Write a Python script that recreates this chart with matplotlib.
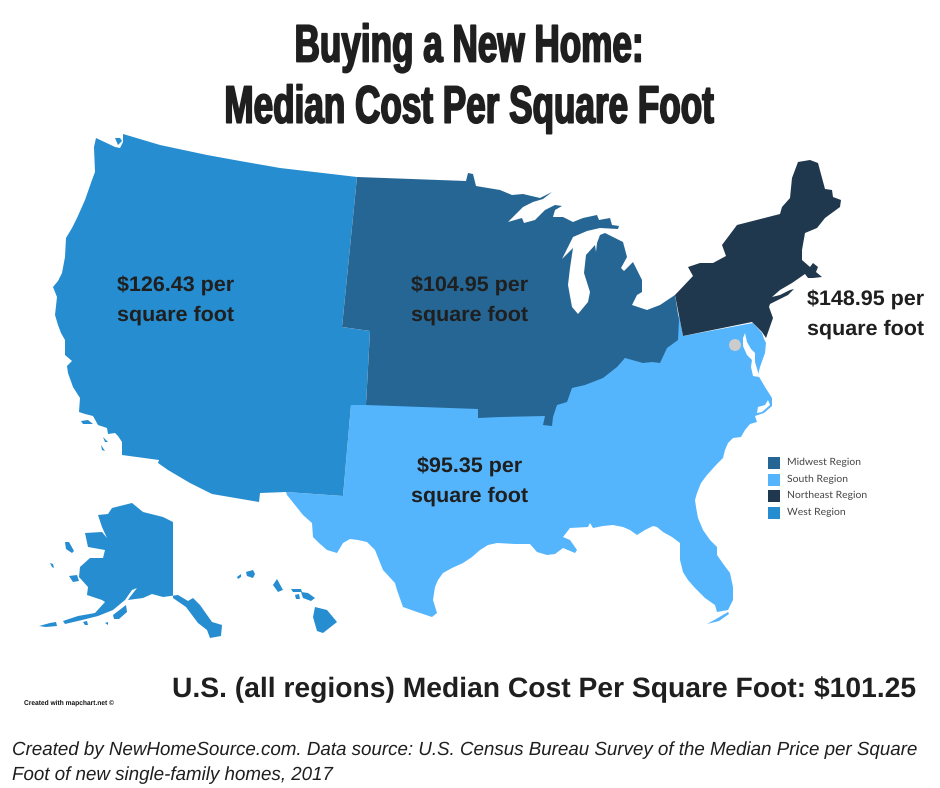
# -*- coding: utf-8 -*-
"""Median new home cost per square foot by US region, outlines read off the picture in pixels."""
import matplotlib; matplotlib.use("Agg"); import matplotlib.pyplot as plt
from matplotlib.patches import Rectangle, Circle
from matplotlib.patheffects import AbstractPathEffect
from matplotlib.transforms import Affine2D

plt.rcParams["text.hinting"]="no_hinting"; plt.rcParams["text.hinting_factor"]=8

WEST_C="#258dd0"; MIDWEST_C="#256694"; SOUTH_C="#55b5fc"; NE_C="#20384e"; INK="#1f1f1f"

LEGEND_NAMES=["Midwest Region","South Region","Northeast Region","West Region"]
LEGEND_COLORS=[MIDWEST_C,SOUTH_C,NE_C,WEST_C]
PRICE_LABELS=["$126.43 per\nsquare foot","$104.95 per\nsquare foot","$95.35 per\nsquare foot","$148.95 per\nsquare foot"]

west=[(123,134),(160,145),(207,155),(240,161),(280,168),(357,177),(342,327),(370,331),(366,405),(351,405),(343,496),
      (286,492),(260,493),(259,502),(212,494),(190,483),(168,470),(158,463),(159,460),(122,455),(122,442),(118,436),(115,433),(108,434),
      (107,428),(98,425),(93,416),(85,414),(79,412),(80,398),(73,387),(68,373),(67,366),(72,361),(65,355),(65,340),(61,333),
      (58,325),(55,315),(57,297),(53,287),(58,281),(62,273),(65,257),(66,238),(72,228),(77,218),(85,200),(92,180),(95,172),(94,147),(96,138),(115,147),
      (120,148),(123,142)]
midwest=[(357,177),(466,181),(468,173),(473,174),(476,186),(500,190),(512,195),(523,194),(540,198),(552,192),(543,199),(533,202),
         (523,207),(508,222),(522,218),(524,223),(535,220),(545,210),(555,205),(562,206),(555,210),(553,217),(563,217),(573,222),
         (583,218),(597,215),(599,220),(610,218),(612,225),(619,226),(618,229),(600,228),(587,231),(573,237),(562,259),(573,248),
         (570,268),(568,285),(572,307),(578,314),(588,302),(590,292),(584,273),(586,255),(595,245),(596,252),(597,243),(600,235),
         (605,233),(623,242),(627,257),(621,268),(624,271),(633,262),(642,280),(642,292),(637,295),(632,305),(647,310),(660,305),
         (675,295),(679,320),(678,340),(667,348),(660,363),(652,362),(643,363),(625,358),(617,367),(603,378),(585,385),(572,388),
         (567,402),(557,405),(553,417),(552,426),(543,425),(545,416),(500,417),(478,418),(478,409),(366,405),(370,331),(342,327)]
south=[(351,405),(366,400),(478,404),(500,410),(553,405),(572,380),(603,370),(640,350),(670,340),(679,315),(683,336),
       (753,323),(762,333),(764,339),(766,343),(765,353),(760,367),(758,375),(765,387),(772,398),(772,406),(764,413),(755,416),
       (757,422),(750,424),(745,430),(741,437),(733,438),(728,443),(725,450),(723,458),(716,465),(707,475),(701,483),(697,493),
       (695,500),(696,507),(698,518),(703,530),(710,540),(717,547),(717,555),(724,565),(730,573),(733,587),(733,600),(728,610),(717,612),
       (715,605),(705,598),(695,588),(688,580),(683,572),(680,560),(680,543),(672,537),(663,532),(657,527),(653,526),(645,530),(637,535),
       (630,530),(623,527),(613,525),(603,526),(593,528),(590,523),(588,527),(570,528),(563,537),(570,540),(577,550),
       (575,553),(563,548),(555,554),(547,555),(537,552),(530,544),(515,544),(497,543),(488,545),(480,550),(472,557),(463,563),
       (452,568),(443,573),(438,580),(435,587),(433,600),(437,613),(432,617),(417,612),(403,607),(397,590),(395,583),(383,570),
       (379,560),(375,550),(367,542),(358,540),(350,539),(343,543),(337,553),(327,550),(319,543),(313,537),(312,523),(303,515),(287,495),(286,492),(343,496)]
keys=[(707,624),(716,619),(728,612),(729,614),(719,621)]
northeast=[(675,295),(693,276),(688,267),(700,263),(713,263),(726,256),(722,245),(737,225),(780,214),(782,207),(790,198),
           (792,178),(798,162),(810,160),(818,163),(825,189),(832,190),(833,197),(841,200),(840,207),(825,218),(817,228),
           (805,233),(802,250),(802,260),(810,267),(813,263),(818,267),(816,272),(822,277),(813,278),(808,278),(805,274),(792,283),
           (780,290),(772,297),(780,295),(790,290),(794,289),(788,295),(778,300),(770,304),(769,307),(773,318),(766,338),(762,332),
           (752,322),(683,336)]
alaska=[(173,522),(163,517),(143,512),(132,503),(112,508),(108,514),(98,515),(102,527),(107,538),(102,532),(85,533),
        (88,547),(105,550),(103,558),(90,558),(80,567),(79,577),(88,587),(87,595),(102,600),(105,602),(95,613),(78,616),
        (63,621),(65,624),(82,620),(98,616),(113,610),(125,600),(132,590),(137,588),(130,597),(128,600),(143,598),
        (152,594),(163,597),(178,595),(188,601),(193,598),(200,605),(212,622),(222,625),(221,636),(210,638),(207,630),
        (198,623),(186,607),(173,598)]
ak_islands=[[(65,542),(69,542),(74,551),(72,553),(66,549)],
            [(69,576),(77,575),(79,581),(73,582)],
            [(50,563),(53,564),(54,568),(52,567)],
            [(113,615),(126,605),(127,612),(119,619),(114,619)],
            [(39,626),(50,623),(56,622),(57,626),(46,627)],
            [(83,622),(87,621),(88,625),(85,625)],
            [(105,623),(108,622),(108,625)]]
hawaii=[[(237,577),(241,574),(241,577),(238,579)],
        [(246,572),(253,570),(255,574),(253,578),(247,576)],
        [(273,585),(277,579),(283,590),(285,589),(278,592)],
        [(291,589),(301,589),(302,592),(293,592)],
        [(295,595),(299,594),(300,599),(296,599)],
        [(301,592),(308,593),(315,598),(311,601),(303,598)],
        [(315,607),(327,610),(337,622),(323,633),(317,631),(313,617)]]
socal_islands=[[(81,421),(88,420),(93,424),(83,424)],[(103,437),(108,442),(105,442)],[(101,445),(105,451),(102,450)]]
san_juan=[(115,138),(120,138),(122,141),(118,145)]

white_gaps=[[(745,333),(747,342),(751,349),(755,353),(755,362),(758,372),(759,377),(753,376),(751,367),(752,360),(747,355),(743,346),(743,338)],  # Chesapeake
            [(768,400),(770,405),(762,412),(757,413),(758,407),(765,405)]]                           # Pamlico

class Squeeze(AbstractPathEffect):
    # narrows a text around its centre and thickens it, the title font is a heavy condensed one
    def __init__(self,cx,sx,lw): self.cx=cx; self.sx=sx; self.lw=lw
    def draw_path(self,renderer,gc,tpath,affine,rgbFace=None):
        gc0=renderer.new_gc(); gc0.copy_properties(gc)
        gc0.set_linewidth(self.lw); gc0.set_foreground(rgbFace)
        t=affine+Affine2D().translate(-self.cx,0).scale(self.sx,1).translate(self.cx,0)
        renderer.draw_path(gc0,tpath,t,rgbFace)
        gc0.restore()

fig=plt.figure(figsize=(9.4,7.88),dpi=100)
ax=fig.add_axes([0,0,1,1]); ax.set_xlim(0,940); ax.set_ylim(788,0); ax.axis("off")

def draw(poly,color,z=1):
    ax.fill(*zip(*poly),color=color,lw=0,zorder=z)

draw(south,SOUTH_C,1); draw(keys,SOUTH_C,1)
draw(west,WEST_C,2); draw(midwest,MIDWEST_C,2); draw(northeast,NE_C,2)
draw(alaska,WEST_C,2)
for p in ak_islands+hawaii+socal_islands: draw(p,WEST_C,2)
draw(san_juan,WEST_C,3)
for p in white_gaps: draw(p,"white",3)
ax.add_patch(Circle((735,345),6,color="#cccccc",lw=0,zorder=4))

title_font=dict(family="Liberation Sans",weight="bold",color=INK,ha="center",va="center",fontsize=38)
ax.text(469,48,"Buying a New Home:",path_effects=[Squeeze(469,0.665,1.2)],**title_font)
ax.text(469,109,"Median Cost Per Square Foot",path_effects=[Squeeze(469,0.665,1.2)],**title_font)

label_font=dict(family="Liberation Sans",weight="bold",color=INK,fontsize=15.46,va="center",linespacing=1.66)
ax.text(117,300,PRICE_LABELS[0],ha="left",**label_font)
ax.text(411,300,PRICE_LABELS[1],ha="left",**label_font)
ax.text(470,481,PRICE_LABELS[2],ha="center",multialignment="center",**label_font)
ax.text(807,314,PRICE_LABELS[3],ha="left",**label_font)

for i,(name,col) in enumerate(zip(LEGEND_NAMES,LEGEND_COLORS)):
    y=457+i*16.7
    ax.add_patch(Rectangle((768,y),12,12,color=col,lw=0))
    ax.text(787,y+5.5,name,family="Lato",fontsize=7.5,color="#444444",va="center")

ax.text(24,703,"Created with mapchart.net ©",family="Liberation Sans",weight="bold",fontsize=4.8,color="#111111",va="center")
ax.text(172,690,"U.S. (all regions) Median Cost Per Square Foot: $101.25",family="Liberation Sans",weight="bold",fontsize=20.3,color=INK,va="center")
ax.text(12,750,"Created by NewHomeSource.com. Data source: U.S. Census Bureau Survey of the Median Price per Square",family="Liberation Sans",style="italic",fontsize=13.5,color=INK,va="center")
ax.text(12,775,"Foot of new single-family homes, 2017",family="Liberation Sans",style="italic",fontsize=13.5,color=INK,va="center")

fig.savefig("out.png",dpi=100)
plt.close(fig)
